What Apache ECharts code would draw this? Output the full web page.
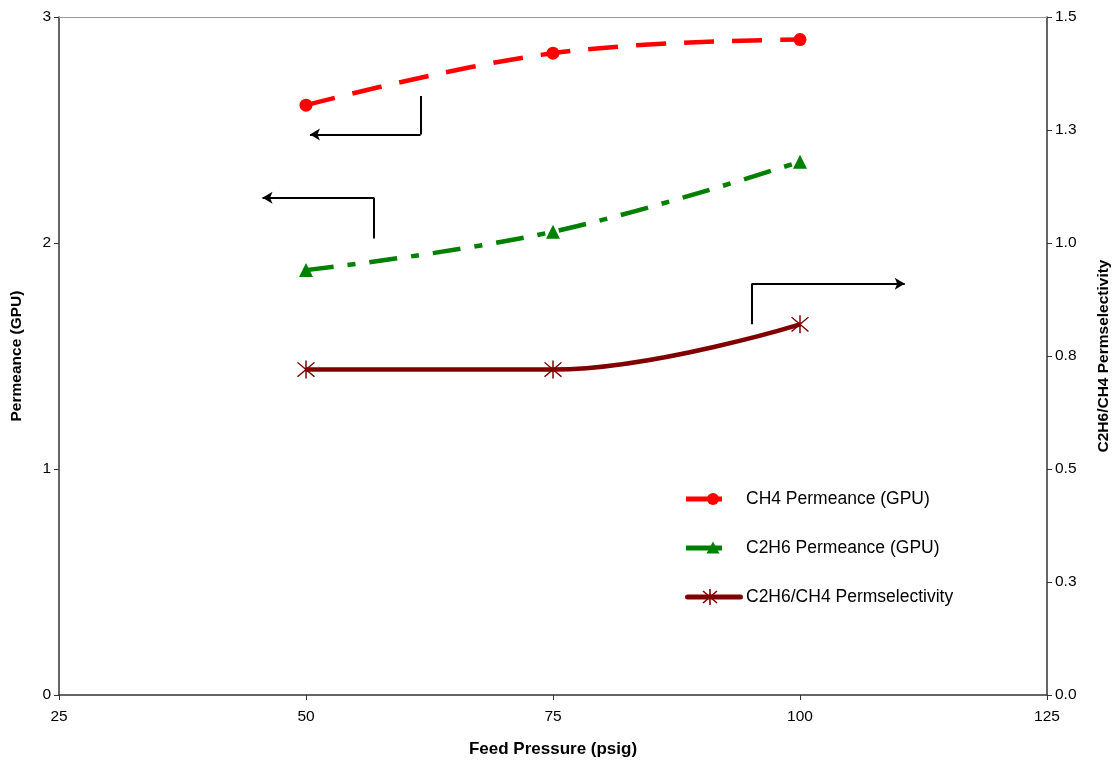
<!DOCTYPE html>
<html style="height: 100%">
<head>
<meta charset="utf-8">
<script src="https://cdn.jsdelivr.net/npm/echarts@6/dist/echarts.min.js"></script>
</head>
<body style="height: 100%; margin: 0; background: #fff">
<div id="container" style="width:1115px;height:764px;"></div>
<script type="text/javascript">
// values
var pressure = [50, 75, 100];
var ch4Perm = [2.61, 2.84, 2.90];
var c2h6Perm = [1.88, 2.05, 2.36];
var selectivity = [0.72, 0.72, 0.82];
var seriesNames = ['CH4 Permeance (GPU)', 'C2H6 Permeance (GPU)', 'C2H6/CH4 Permselectivity'];

// arrow annotations in data space (x, left-axis y): start, corner, tip
var arrowPaths = [
    [[61.6, 2.65], [61.6, 2.48], [50.4, 2.48]],
    [[56.9, 2.02], [56.9, 2.20], [45.6, 2.20]],
    [[95.1, 1.64], [95.1, 1.82], [110.6, 1.82]]
];

var font = 'Liberation Sans, Arial, sans-serif';
var asterisk = 'path://M9.3,0 L10.7,0 L10.7,20 L9.3,20 Z M1.5,2.5 L2.5,1.5 L18.5,17.5 L17.5,18.5 Z M17.5,1.5 L18.5,2.5 L2.5,18.5 L1.5,17.5 Z';

// legend icons drawn as small svg pictures (line + marker like the original)
function svgIcon(body) {
    var svg = '<svg xmlns="http://www.w3.org/2000/svg" width="58" height="16" viewBox="0 0 58 16">' + body + '</svg>';
    return 'image://data:image/svg+xml;charset=utf-8,' + encodeURIComponent(svg);
}
var legendIcons = [
    svgIcon('<rect x="1" y="5.5" width="36" height="5" fill="#ff0000"/><circle cx="28" cy="8" r="6" fill="#ff0000"/>'),
    svgIcon('<rect x="1" y="5.5" width="36" height="5" fill="#008000"/><polygon points="28,1.5 34.5,13.5 21.5,13.5" fill="#008000"/>'),
    svgIcon('<rect x="0" y="5.5" width="58" height="5" rx="2.5" fill="#800000"/>' +
        '<g stroke="#800000" stroke-width="1.6"><line x1="25" y1="0" x2="25" y2="16"/><line x1="18" y1="2" x2="32" y2="14"/><line x1="32" y1="2" x2="18" y2="14"/></g>')
];

function pairs(xs, ys) {
    return xs.map(function (x, i) { return [x, ys[i]]; });
}

var arrowLines = [];
arrowPaths.forEach(function (p) {
    arrowLines.push([{ coord: p[0], symbol: 'none' }, { coord: p[1], symbol: 'none' }]);
    arrowLines.push([{ coord: p[1], symbol: 'none' }, { coord: p[2], symbol: 'arrow' }]);
});

var dom = document.getElementById('container');
var myChart = echarts.init(dom);
var option = {
    animation: false,
    textStyle: { fontFamily: font },
    grid: { left: 59, right: 68, top: 17, bottom: 69, outerBoundsMode: 'none', containLabel: false },
    legend: {
        data: seriesNames.map(function (n, i) { return { name: n, icon: legendIcons[i] }; }),
        orient: 'vertical',
        left: 680,
        top: 485,
        itemWidth: 58,
        itemHeight: 16,
        itemGap: 31,
        textStyle: { fontSize: 17.5, color: '#000', fontFamily: font, padding: [0, 0, 0, -2] }
    },
    xAxis: [{
        type: 'value',
        min: 25, max: 125, interval: 25,
        name: 'Feed Pressure (psig)',
        nameLocation: 'middle',
        nameGap: 46,
        nameTextStyle: { fontSize: 17, fontWeight: 'bold', color: '#000' },
        splitLine: { show: false },
        axisLine: { show: true, lineStyle: { color: '#333', width: 1.5 } },
        axisTick: { lineStyle: { color: '#333' }, length: 5 },
        axisLabel: { fontSize: 15.5, color: '#000', margin: 14 }
    }, {
        type: 'value',
        position: 'top',
        min: 25, max: 125,
        splitLine: { show: false },
        axisLine: { show: true, onZero: false, lineStyle: { color: '#999', width: 1 } },
        axisTick: { show: false },
        axisLabel: { show: false }
    }],
    yAxis: [{
        type: 'value',
        min: 0, max: 3, interval: 1,
        name: 'Permeance (GPU)',
        nameLocation: 'middle',
        nameGap: 34,
        nameTextStyle: { fontSize: 15.5, fontWeight: 'bold', color: '#000' },
        splitLine: { show: false },
        axisLine: { show: true, lineStyle: { color: '#333', width: 1.5 } },
        axisTick: { show: true, lineStyle: { color: '#333' }, length: 5 },
        axisLabel: { fontSize: 15.5, color: '#000', margin: 8 }
    }, {
        type: 'value',
        position: 'right',
        min: 0, max: 1.5, interval: 0.25,
        name: 'C2H6/CH4 Permselectivity',
        nameLocation: 'middle',
        nameGap: 49,
        nameRotate: 90,
        nameTextStyle: { fontSize: 15.5, fontWeight: 'bold', color: '#000' },
        splitLine: { show: false },
        axisLine: { show: true, lineStyle: { color: '#333', width: 1.5 } },
        axisTick: { show: true, lineStyle: { color: '#333' }, length: 5 },
        axisLabel: {
            fontSize: 15.5, color: '#000', margin: 8,
            formatter: function (v) { return v.toFixed(1); }
        }
    }],
    series: [{
        name: seriesNames[0],
        type: 'line',
        yAxisIndex: 0,
        data: pairs(pressure, ch4Perm),
        smooth: 0.4,
        symbol: 'circle',
        symbolSize: 13,
        itemStyle: { color: '#ff0000' },
        lineStyle: { color: '#ff0000', width: 4.5, type: [30, 18] },
        markLine: {
            silent: true,
            symbolSize: [9, 10],
            label: { show: false },
            lineStyle: { color: '#000', width: 2, type: 'solid' },
            emphasis: { disabled: true },
            data: arrowLines
        }
    }, {
        name: seriesNames[1],
        type: 'line',
        yAxisIndex: 0,
        data: pairs(pressure, c2h6Perm),
        smooth: 0.4,
        symbol: 'triangle',
        symbolSize: 14,
        itemStyle: { color: '#008000' },
        lineStyle: { color: '#008000', width: 4.5, type: [28, 14, 8, 14] }
    }, {
        name: seriesNames[2],
        type: 'line',
        yAxisIndex: 1,
        data: pairs(pressure, selectivity),
        smooth: 0.4,
        symbol: asterisk,
        symbolSize: 18,
        itemStyle: { color: '#800000' },
        lineStyle: { color: '#800000', width: 4.5 }
    }]
};
myChart.setOption(option, true);
</script>
</body>
</html>
